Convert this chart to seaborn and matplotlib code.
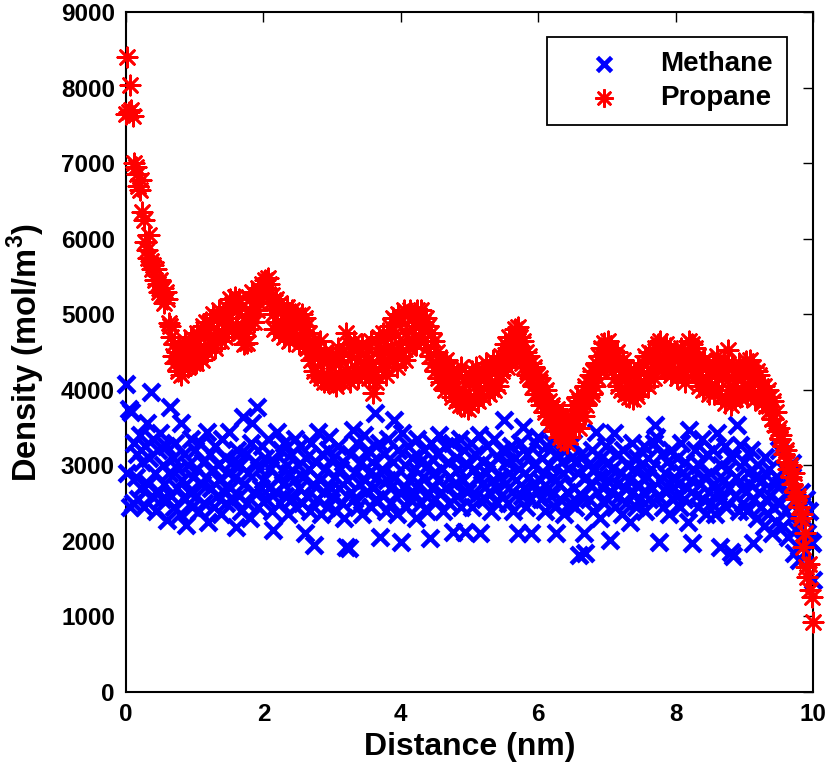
import numpy as np
import pandas as pd
import matplotlib
matplotlib.use('Agg')
import matplotlib.pyplot as plt
import seaborn as sns

# distance grid (nm), 0.02 nm spacing
distance = np.round(np.arange(0, 501) * 0.02, 2)

# Methane density (mol/m^3) (0.5 nm per row)
methane = [
    4070, 2900, 3750, 2450, 3700, 2500, 3300, 2850, 3150, 2550, 3400, 2700, 3050, 2450, 3250, 3560, 2750, 3100, 3970, 2600, 3350, 2900, 2400, 3200, 2650,
    3430, 2550, 3000, 2750, 3250, 2280, 2900, 3770, 2600, 3100, 2450, 3300, 2700, 2950, 2350, 3560, 2800, 3150, 2550, 2210, 3000, 2650, 3350, 2450, 2850,
    3200, 2600, 2950, 2400, 3300, 2750, 3050, 2500, 2850, 3440, 2250, 3150, 2700, 2950, 2450, 3250, 2600, 3000, 2800, 2350, 3350, 2650, 3100, 2500, 2900,
    3440, 2700, 3050, 2550, 2850, 2180, 3200, 2600, 3000, 2400, 3640, 2750, 3150, 2500, 2900, 2300, 3300, 3560, 2650, 3050, 3770, 2450, 2950, 2700, 3250,
    2800, 3100, 2550, 3350, 2700, 2950, 2400, 2140, 3050, 2650, 3440, 2850, 2500, 3200, 2750, 3290, 2600, 3000, 2350, 2900, 3150, 2550, 2800, 3350, 2450,
    3000, 2700, 3250, 2500, 2850, 2100, 3100, 2600, 2950, 2400, 3300, 2750, 1950, 3050, 2550, 3440, 2800, 2350, 3150, 2650, 2950, 2450, 3200, 3370, 2700,
    2600, 3100, 2850, 2400, 3250, 2700, 2950, 2500, 3050, 2300, 1920, 2800, 1910, 3150, 2650, 3470, 2550, 2900, 3300, 2450, 2750, 3050, 2350, 3400, 2800,
    2650, 3200, 2900, 2450, 3050, 2700, 3690, 2550, 2850, 3300, 2050, 2950, 2600, 3150, 2400, 2800, 3350, 2700, 2500, 3050, 3600, 2850, 2350, 3200, 2650,
    1990, 3430, 2700, 3000, 2450, 3250, 2800, 2550, 3100, 2650, 2950, 2300, 3350, 2750, 3050, 2500, 2850, 3200, 2600, 2400, 3000, 2040, 3300, 2700, 2900,
    2550, 3150, 2800, 3400, 2650, 2950, 2400, 3250, 2700, 3050, 2500, 2850, 3300, 2120, 2750, 3100, 2600, 2950, 3350, 2450, 2800, 3200, 2120, 2650, 3000,
    2700, 3300, 2450, 2950, 3150, 2600, 2850, 3400, 2100, 2750, 3050, 2550, 2900, 3250, 2650, 3000, 2400, 2800, 3350, 2700, 2500, 3100, 2850, 2600, 3200,
    3600, 2750, 3050, 2500, 2900, 3250, 2650, 2400, 3100, 2800, 2100, 2950, 3300, 2600, 3510, 2700, 2450, 3150, 2850, 2550, 2100, 3000, 2750, 3300, 2650,
    3380, 2800, 2550, 3100, 2900, 2400, 3250, 2700, 3000, 2600, 3300, 2850, 2450, 2100, 3150, 2750, 2550, 3050, 2900, 2350, 3200, 2650, 2950, 2500, 3100,
    3300, 2700, 2450, 3050, 2900, 1810, 3150, 2600, 2100, 1840, 2850, 3000, 2550, 2750, 3200, 2400, 2950, 3440, 2650, 2850, 2300, 3100, 2700, 2500, 3250,
    2800, 3050, 2010, 2650, 2950, 3430, 2450, 2750, 3150, 2600, 2900, 2350, 3200, 2700, 2500, 3000, 2800, 2250, 3300, 2650, 2950, 2450, 3100, 2750, 2550,
    3000, 2650, 3250, 2400, 2850, 3100, 2550, 2950, 2700, 3300, 3530, 3380, 2600, 1990, 2800, 3150, 2450, 2900, 2650, 3050, 2350, 2750, 3200, 2550, 2850,
    2600, 3100, 2750, 2450, 3300, 2900, 2550, 3050, 2700, 2250, 3470, 2800, 1970, 2950, 3200, 2600, 2450, 3000, 2750, 3350, 2550, 2850, 2350, 3150, 2650,
    2900, 2500, 3200, 2750, 2350, 3430, 2650, 1920, 3000, 2550, 2800, 3250, 2450, 2950, 2700, 1850, 3100, 1800, 2600, 2850, 3530, 2400, 3270, 2700, 2500,
    3050, 2650, 2400, 2900, 2750, 3200, 1970, 2550, 2850, 2300, 3000, 2650, 2450, 2800, 2200, 3110, 2550, 2350, 2950, 2600, 2100, 2450, 2750, 2250, 2850,
    3200, 2500, 2750, 2200, 2950, 2400, 2650, 2050, 2850, 2300, 3030, 1840, 2550, 2150, 2400, 1750, 2650, 2000, 2300, 1850, 2550, 2100, 2400, 2000, 1970,
    1480,
]

# Propane density (mol/m^3)
propane = [
    7650, 8400, 7680, 8030, 7700, 7620, 7000, 6950, 6850, 6700, 6650, 6780, 6350, 6250, 5950, 5850, 5750, 6050, 5700, 5600, 5650, 5450, 5600, 5400, 5300,
    5450, 5250, 5350, 5150, 5300, 5200, 4880, 4850, 4700, 4450, 4600, 4350, 4500, 4250, 4400, 4200, 4450, 4300, 4650, 4400, 4300, 4550, 4700, 4450, 4350,
    4600, 4350, 4750, 4450, 4700, 4400, 4850, 4550, 4900, 4500, 4750, 4900, 4600, 5000, 4700, 4550, 4950, 4750, 5050, 4650, 4900, 5000, 4700, 5100, 4800,
    4950, 5200, 4800, 5150, 5230, 4850, 5050, 5200, 4750, 5100, 4700, 4600, 4900, 4620, 4800, 5200, 5000, 5300, 4900, 5250, 5050, 5350, 5150, 5300, 5400,
    5300, 5450, 5350, 5480, 5400, 5150, 5250, 5000, 4800, 5200, 4900, 4750, 5150, 4850, 5050, 4700, 5000, 5100, 4800, 4650, 4950, 5050, 4750, 5000, 4700,
    4950, 4600, 4850, 5000, 4650, 4950, 4850, 4550, 4750, 4500, 4400, 4650, 4250, 4550, 4200, 4450, 4650, 4150, 4400, 4100, 4500, 4200, 4100, 4400, 4150,
    4450, 4100, 4350, 4050, 4550, 4200, 4400, 4100, 4500, 4150, 4750, 4250, 4600, 4100, 4450, 4200, 4650, 4300, 4550, 4150, 4500, 4250, 4600, 4350, 4200,
    4400, 4550, 4150, 4650, 4350, 3960, 4250, 4100, 4500, 4700, 4550, 4300, 4750, 4500, 4200, 4700, 4400, 4850, 4550, 4950, 4400, 4750, 4300, 5000, 4600,
    4900, 4450, 5050, 4400, 4750, 5000, 4550, 5050, 4800, 4650, 5000, 4600, 5050, 4850, 4700, 5050, 4900, 4650, 4950, 4550, 4850, 4450, 4750, 4350, 4650,
    4250, 4500, 4150, 4400, 4100, 4350, 4250, 4000, 4400, 4150, 4050, 4300, 3900, 4250, 4100, 3850, 4200, 4000, 3800, 4300, 3950, 3780, 4150, 3850, 3750,
    4100, 3800, 4250, 3900, 4050, 4300, 3850, 4150, 3950, 4250, 3900, 4200, 4350, 4050, 3950, 4300, 4100, 4400, 4000, 4250, 4350, 4050, 4200, 4450, 4250,
    4400, 4600, 4300, 4550, 4700, 4400, 4650, 4450, 4800, 4550, 4830, 4500, 4700, 4350, 4650, 4300, 4500, 4200, 4450, 4150, 4350, 4050, 4300, 3950, 4200,
    3950, 4150, 3800, 4050, 3850, 3700, 4000, 3650, 3850, 3550, 3800, 3600, 3700, 3450, 3750, 3500, 3380, 3650, 3420, 3330, 3600, 3300, 3500, 3380, 3650,
    3550, 3800, 3550, 3900, 3650, 3500, 3850, 3950, 3650, 4050, 3800, 4100, 3900, 4200, 3950, 4250, 4050, 4350, 4150, 4450, 4250, 4550, 4350, 4620, 4300,
    4500, 4650, 4350, 4550, 4250, 4450, 4150, 4500, 4050, 4350, 4000, 4250, 4400, 3950, 4300, 4100, 3900, 4250, 4000, 3880, 4200, 4050, 3920, 4300, 4100,
    4000, 4350, 4100, 4450, 4200, 4050, 4500, 4250, 4400, 4150, 4550, 4300, 4600, 4400, 4650, 4350, 4550, 4250, 4600, 4450, 4300, 4550, 4200, 4450, 4250,
    4500, 4150, 4400, 4250, 4550, 4200, 4450, 4100, 4350, 4500, 4650, 4350, 4600, 4250, 4550, 4200, 4450, 4050, 4350, 4150, 4000, 4400, 4100, 4300, 3950,
    4250, 4050, 4350, 3950, 4200, 4450, 4000, 4300, 3900, 4150, 4400, 3820, 4250, 4520, 4000, 3800, 4300, 4050, 3880, 4200, 3950, 4350, 3900, 4150, 4300,
    4050, 4380, 3900, 4250, 4400, 4000, 4300, 4100, 3880, 4250, 3950, 4200, 4050, 3820, 4050, 3900, 3780, 4000, 3720, 3900, 3620, 3850, 3530, 3700, 3450,
    3500, 3350, 3400, 3250, 3150, 3200, 3050, 2950, 3000, 2850, 2750, 2900, 2650, 2550, 2600, 2450, 2300, 2350, 1920, 2100, 1650, 1520, 1700, 1350, 1260,
    930,
]

xticks = [0, 2, 4, 6, 8, 10]
yticks = list(range(0, 9001, 1000))

df = pd.DataFrame({'Distance': distance, 'Methane': methane, 'Propane': propane})

sns.set_style('white')
plt.rcParams['font.family'] = ['Liberation Sans', 'DejaVu Sans']
plt.rcParams['font.weight'] = 'bold'
plt.rcParams['text.color'] = 'black'
plt.rcParams['axes.labelcolor'] = 'black'
plt.rcParams['mathtext.fontset'] = 'custom'
plt.rcParams['mathtext.bf'] = 'Liberation Sans:bold'
plt.rcParams['mathtext.rm'] = 'Liberation Sans:bold'

fig = plt.figure(figsize=(8.3, 7.69), dpi=100)
fig.subplots_adjust(left=0.1518, right=0.9795, bottom=0.1001, top=0.9844)
ax = fig.add_subplot(111)

sns.scatterplot(data=df, x='Distance', y='Methane', ax=ax, marker='x', s=145,
                color=(0, 0, 1), linewidth=3.3, label='Methane', clip_on=False, zorder=3)
sns.scatterplot(data=df, x='Distance', y='Propane', ax=ax, marker=(8, 2, 0), s=195,
                color=(1, 0, 0), linewidth=1.9, label='Propane', clip_on=False, zorder=4)
ax.collections[0].set_linewidths(3.3)
ax.collections[1].set_linewidths(1.9)

ax.set_xlim(0, 10)
ax.set_ylim(0, 9000)
ax.set_xticks(xticks)
ax.set_yticks(yticks)
ax.tick_params(direction='in', length=7, width=1, top=True, right=True,
               labelsize=17.5, pad=8, colors='black')
for lab in ax.get_xticklabels() + ax.get_yticklabels():
    lab.set_fontweight('bold')
for sp in ax.spines.values():
    sp.set_color('black')
    sp.set_linewidth(1.5)

ax.set_xlabel('Distance (nm)', fontsize=23, fontweight='bold', color='black', labelpad=4)
ax.set_ylabel(r'Density (mol/m$^{\mathbf{3}}$)', fontsize=23.5, fontweight='bold',
              color='black', labelpad=10)

leg = ax.legend(loc='upper right', bbox_to_anchor=(0.962, 0.963), borderaxespad=0,
                fancybox=False, framealpha=1, edgecolor='black', fontsize=20,
                borderpad=0.5, handlelength=3.1, handletextpad=0.47, labelspacing=0.3,
                markerscale=0.85)
leg.get_frame().set_linewidth(1.3)
for t in leg.get_texts():
    t.set_fontweight('bold')
    t.set_color('black')

fig.savefig('out.png', dpi=100)
